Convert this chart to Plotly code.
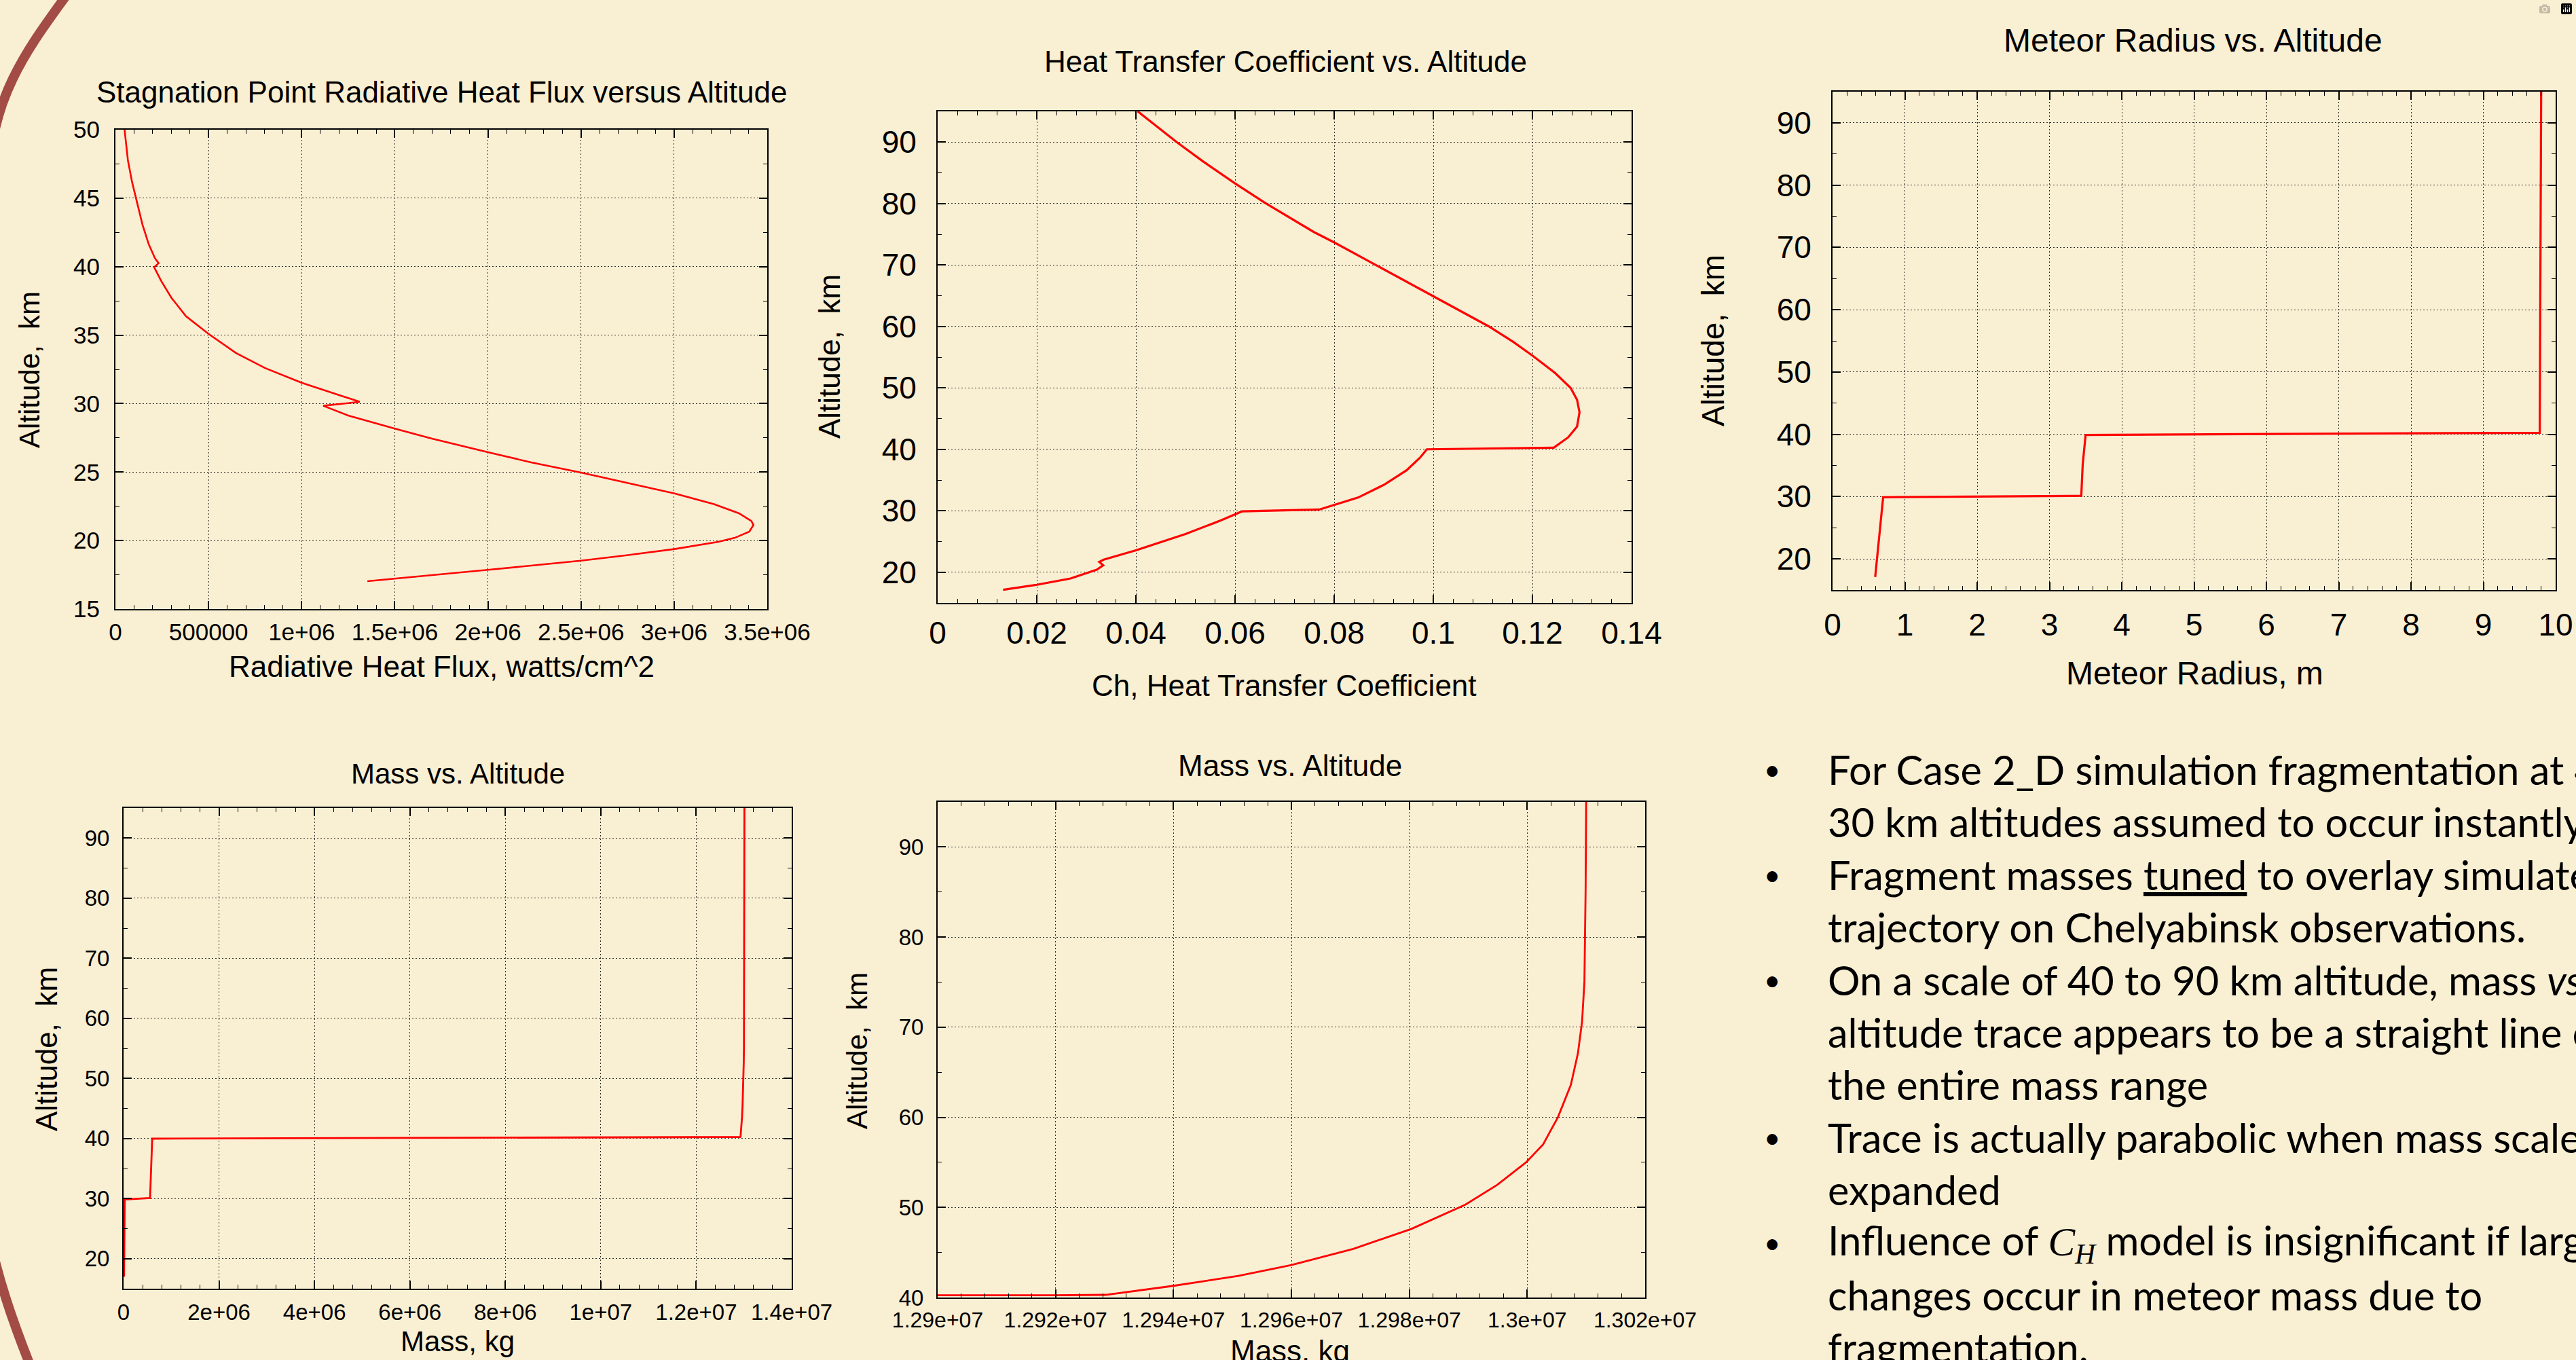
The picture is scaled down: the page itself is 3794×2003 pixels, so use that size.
import plotly.graph_objects as go

W, H = 3794, 2003
BG = "#F9EFD3"
RED = "#FF0000"
CFONT = "Liberation Sans, Arial, Helvetica, sans-serif"
BFONT = "Lato, Carlito, sans-serif"

# ---------------- data ----------------
# Chart 1: stagnation point radiative heat flux vs altitude
flux_alt = [50.0, 47.77, 46.2, 44.87, 43.08, 41.63, 40.62, 40.25, 39.96, 38.95, 37.72, 36.38,
            35.09, 33.7, 32.59, 31.52, 30.69, 30.13, 29.84, 29.13, 28.17, 27.46, 26.45, 25.71,
            24.96, 24.22, 23.44, 22.66, 21.99, 21.43, 21.14, 20.65, 20.2, 19.91, 19.38, 18.93,
            18.53, 17.86, 17.48, 17.03]
flux_val = [4.91e4, 6.7e4, 8.9e4, 1.12e5, 1.45e5, 1.79e5, 2.12e5, 2.32e5, 2.08e5, 2.46e5,
            3.01e5, 3.79e5, 5.0e5, 6.47e5, 8.04e5, 1.0e6, 1.183e6, 1.312e6, 1.116e6, 1.25e6,
            1.5e6, 1.696e6, 2.0e6, 2.232e6, 2.5e6, 2.746e6, 3.002e6, 3.214e6, 3.348e6, 3.415e6,
            3.426e6, 3.404e6, 3.326e6, 3.237e6, 3.002e6, 2.746e6, 2.5e6, 2.0e6, 1.696e6, 1.353e6]
flux_ticks = [0, 5e5, 1e6, 1.5e6, 2e6, 2.5e6, 3e6, 3.5e6]
flux_ticktext = ["0", "500000", "1e+06", "1.5e+06", "2e+06", "2.5e+06", "3e+06", "3.5e+06"]
flux_alt_ticks = [15, 20, 25, 30, 35, 40, 45, 50]

# Chart 2: heat transfer coefficient vs altitude
ch_alt = [95, 90, 86.84, 83.27, 80.1, 75.36, 73.67, 70.0, 64.9, 60.0, 57.5, 55.2, 52.4, 50.0,
          48.06, 46.02, 43.7, 41.94, 40.26, 40.0, 38.62, 36.58, 34.29, 32.14, 30.2, 29.9, 28.42,
          26.22, 23.57, 22.04, 21.68, 21.12, 20.41, 18.98, 17.96, 17.14]
ch_val = [0.04036, 0.04822, 0.05357, 0.0600, 0.06607, 0.0759, 0.0800, 0.0884, 0.1000, 0.1112,
          0.1161, 0.1201, 0.1246, 0.1277, 0.1290, 0.1295, 0.1290, 0.1272, 0.1243, 0.0987,
          0.0973, 0.0946, 0.0902, 0.0848, 0.0770, 0.0614, 0.0571, 0.0500, 0.0400, 0.0335,
          0.0326, 0.0334, 0.0321, 0.0268, 0.0200, 0.0132]
ch_ticks = [0, 0.02, 0.04, 0.06, 0.08, 0.1, 0.12, 0.14]
ch_ticktext = ["0", "0.02", "0.04", "0.06", "0.08", "0.1", "0.12", "0.14"]

# Chart 3: meteor radius vs altitude
rad_alt = [95, 40.25, 39.9, 35.2, 30.13, 29.9, 17.1]
rad_val = [9.80, 9.78, 3.50, 3.46, 3.44, 0.70, 0.59]
rad_ticks = [0, 1, 2, 3, 4, 5, 6, 7, 8, 9, 10]
rad_ticktext = ["0", "1", "2", "3", "4", "5", "6", "7", "8", "9", "10"]

# Charts 4 & 5: mass vs altitude
mass_alt = [95, 85, 75, 70.6, 67.1, 63.6, 60.0, 57.0, 55.0, 52.5, 50.3, 47.6, 45.4, 43.6,
            42.4, 41.3, 40.3, 40.25, 39.97, 30.1, 29.85, 17.0]
mass_val = [1.30100e7, 1.30099e7, 1.30097e7, 1.30093e7, 1.30086e7, 1.30074e7, 1.30052e7,
            1.30027e7, 1.29998e7, 1.29949e7, 1.29895e7, 1.29803e7, 1.29705e7, 1.29600e7,
            1.29510e7, 1.29400e7, 1.29285e7, 1.29200e7, 6.0e5, 5.55e5, 2.3e4, 1.0e4]
mass_ticks = [0, 2e6, 4e6, 6e6, 8e6, 1e7, 1.2e7, 1.4e7]
mass_ticktext = ["0", "2e+06", "4e+06", "6e+06", "8e+06", "1e+07", "1.2e+07", "1.4e+07"]
massz_ticks = [1.29e7, 1.292e7, 1.294e7, 1.296e7, 1.298e7, 1.30e7, 1.302e7]
massz_ticktext = ["1.29e+07", "1.292e+07", "1.294e+07", "1.296e+07", "1.298e+07",
                  "1.3e+07", "1.302e+07"]
alt_ticks = [20, 30, 40, 50, 60, 70, 80, 90]
altz_ticks = [40, 50, 60, 70, 80, 90]

bullet_lines = [
    ("\u2022", "For Case 2_D simulation fragmentation at 40 and"),
    ("", "30 km altitudes assumed to occur instantly."),
    ("\u2022", "Fragment masses <u>tuned</u> to overlay simulated"),
    ("", "trajectory on Chelyabinsk observations."),
    ("\u2022", "On a scale of 40 to 90 km altitude, mass <i>vs</i>."),
    ("", "altitude trace appears to be a straight line over"),
    ("", "the entire mass range"),
    ("\u2022", "Trace is actually parabolic when mass scale is"),
    ("", "expanded"),
    ("\u2022", "Influence of <span style=\"font-family:Liberation Serif\"><i>C<sub>H</sub></i></span> model is insignificant if large"),
    ("", "changes occur in meteor mass due to"),
    ("", "fragmentation."),
]

# ---------------- helpers ----------------
def px(x):
    return x / W

def py(y):
    return 1 - y / H

def axis(x0, x1, rng, tickvals, ticktext, mdt, fs, standoff, anchor, vertical=False):
    if vertical:
        dom = [py(x1), py(x0)]
    else:
        dom = [px(x0), px(x1)]
    return dict(
        domain=dom, range=rng, anchor=anchor, automargin=False,
        tickmode="array", tickvals=tickvals, ticktext=ticktext,
        ticks="inside", ticklen=12, tickwidth=1.5, tickcolor="black",
        showline=True, linecolor="black", linewidth=2, mirror="ticks",
        showgrid=True, gridcolor="rgba(0,0,0,0.8)", gridwidth=1, griddash="2px,3px",
        zeroline=False, layer="above traces",
        tickfont=dict(family=CFONT, size=fs, color="black"),
        ticklabelstandoff=standoff,
        minor=dict(ticks="inside", ticklen=6, tickwidth=1.2, tickcolor="black",
                   tickmode="linear", tick0=rng[0], dtick=mdt, showgrid=False),
        fixedrange=True,
    )

fig = go.Figure()
fig.add_trace(go.Scatter(x=flux_val, y=flux_alt, mode="lines", line=dict(color=RED, width=2.6),
                         xaxis="x", yaxis="y"))
fig.add_trace(go.Scatter(x=ch_val, y=ch_alt, mode="lines", line=dict(color=RED, width=3.2),
                         xaxis="x2", yaxis="y2"))
fig.add_trace(go.Scatter(x=rad_val, y=rad_alt, mode="lines", line=dict(color=RED, width=3.2),
                         xaxis="x3", yaxis="y3"))
fig.add_trace(go.Scatter(x=mass_val, y=mass_alt, mode="lines", line=dict(color=RED, width=2.8),
                         xaxis="x4", yaxis="y4"))
fig.add_trace(go.Scatter(x=mass_val, y=mass_alt, mode="lines", line=dict(color=RED, width=2.8),
                         xaxis="x5", yaxis="y5"))

# plot-area pixel boxes: (left, right, top, bottom)
B1 = (170, 1130, 191, 897)
B2 = (1381, 2403, 164, 888)
B3 = (2699, 3764, 135, 869)
B4 = (182, 1166, 1190, 1898)
B5 = (1381, 2423, 1181, 1911)

layout = dict(
    template="none",
    width=W, height=H, autosize=False, margin=dict(l=0, r=0, t=0, b=0, pad=0, autoexpand=False),
    paper_bgcolor=BG, plot_bgcolor="rgba(0,0,0,0)", showlegend=False,
    xaxis=axis(B1[0], B1[1], [0, 3.5e6], flux_ticks, flux_ticktext, 1e5, 35, 2, "y"),
    yaxis=axis(B1[2], B1[3], [15, 50], flux_alt_ticks, [str(v) for v in flux_alt_ticks], 2.5, 35, 14, "x", True),
    xaxis2=axis(B2[0], B2[1], [0, 0.14], ch_ticks, ch_ticktext, 0.004, 46, 3, "y2"),
    yaxis2=axis(B2[2], B2[3], [15, 95], alt_ticks, [str(v) for v in alt_ticks], 5, 46, 20, "x2", True),
    xaxis3=axis(B3[0], B3[1], [0, 10], rad_ticks, rad_ticktext, 0.2, 46, 10, "y3"),
    yaxis3=axis(B3[2], B3[3], [15, 95], alt_ticks, [str(v) for v in alt_ticks], 5, 46, 20, "x3", True),
    xaxis4=axis(B4[0], B4[1], [0, 1.4e7], mass_ticks, mass_ticktext, 4e5, 33, 4, "y4"),
    yaxis4=axis(B4[2], B4[3], [15, 95], alt_ticks, [str(v) for v in alt_ticks], 5, 33, 12, "x4", True),
    xaxis5=axis(B5[0], B5[1], [1.29e7, 1.302e7], massz_ticks, massz_ticktext, 4000, 32, 4, "y5"),
    yaxis5=axis(B5[2], B5[3], [40, 95], altz_ticks, [str(v) for v in altz_ticks], 5, 33, 12, "x5", True),
)
fig.update_layout(**layout)

ann = []
def text(x, y, s, size, angle=0, family=CFONT, xanchor="center"):
    ann.append(dict(x=px(x), y=py(y), xref="paper", yref="paper", text=s, showarrow=False,
                    xanchor=xanchor, yanchor="middle", textangle=angle,
                    font=dict(family=family, size=size, color="black")))

# chart titles and axis titles
text(650, 135, "Stagnation Point Radiative Heat Flux versus Altitude", 44)
text(650, 981, "Radiative Heat Flux, watts/cm^2", 44)
text(44, 545, "Altitude,  km", 42, angle=-90)

text(1893, 91, "Heat Transfer Coefficient vs. Altitude", 44)
text(1891, 1009, "Ch, Heat Transfer Coefficient", 44)
text(1221, 525, "Altitude,  km", 44, angle=-90)

text(3230, 60, "Meteor Radius vs. Altitude", 48)
text(3232, 992, "Meteor Radius, m", 48)
text(2523, 502, "Altitude,  km", 46, angle=-90)

text(674, 1139, "Mass vs. Altitude", 42)
text(674, 1975, "Mass, kg", 42)
text(68, 1545, "Altitude,  km", 44, angle=-90)

text(1900, 1127, "Mass vs. Altitude", 44)
text(1900, 1989, "Mass, kg", 44)
text(1262, 1548, "Altitude,  km", 42, angle=-90)

# bullet text
y0, dy = 1133, 77.4
for i, (b, s) in enumerate(bullet_lines):
    yy = y0 + i * dy
    if b:
        text(2610, yy, b, 42, family=BFONT)
    text(2690, yy, s, 59.5, family=BFONT, xanchor="left")

fig.update_layout(annotations=ann)

# decorative slide arcs on the left edge
def pth(pts):
    (a, b), rest = pts[0], pts[1:]
    return f"M {px(a)} {py(b)} C " + " ".join(f"{px(x)} {py(y)}" for x, y in rest)

fig.update_layout(shapes=[
    dict(type="path", xref="paper", yref="paper", layer="below",
         path=pth([(100, -10), (50, 60), (-15, 140), (-15, 260)]),
         line=dict(color="#A34B45", width=14)),
    dict(type="path", xref="paper", yref="paper", layer="below",
         path=pth([(-20, 1800), (-5, 1880), (20, 1950), (48, 2020)]),
         line=dict(color="#A34B45", width=14)),
])

fig.write_html("out.html", post_script="document.body.style.margin='0';document.body.style.overflow='hidden';")
